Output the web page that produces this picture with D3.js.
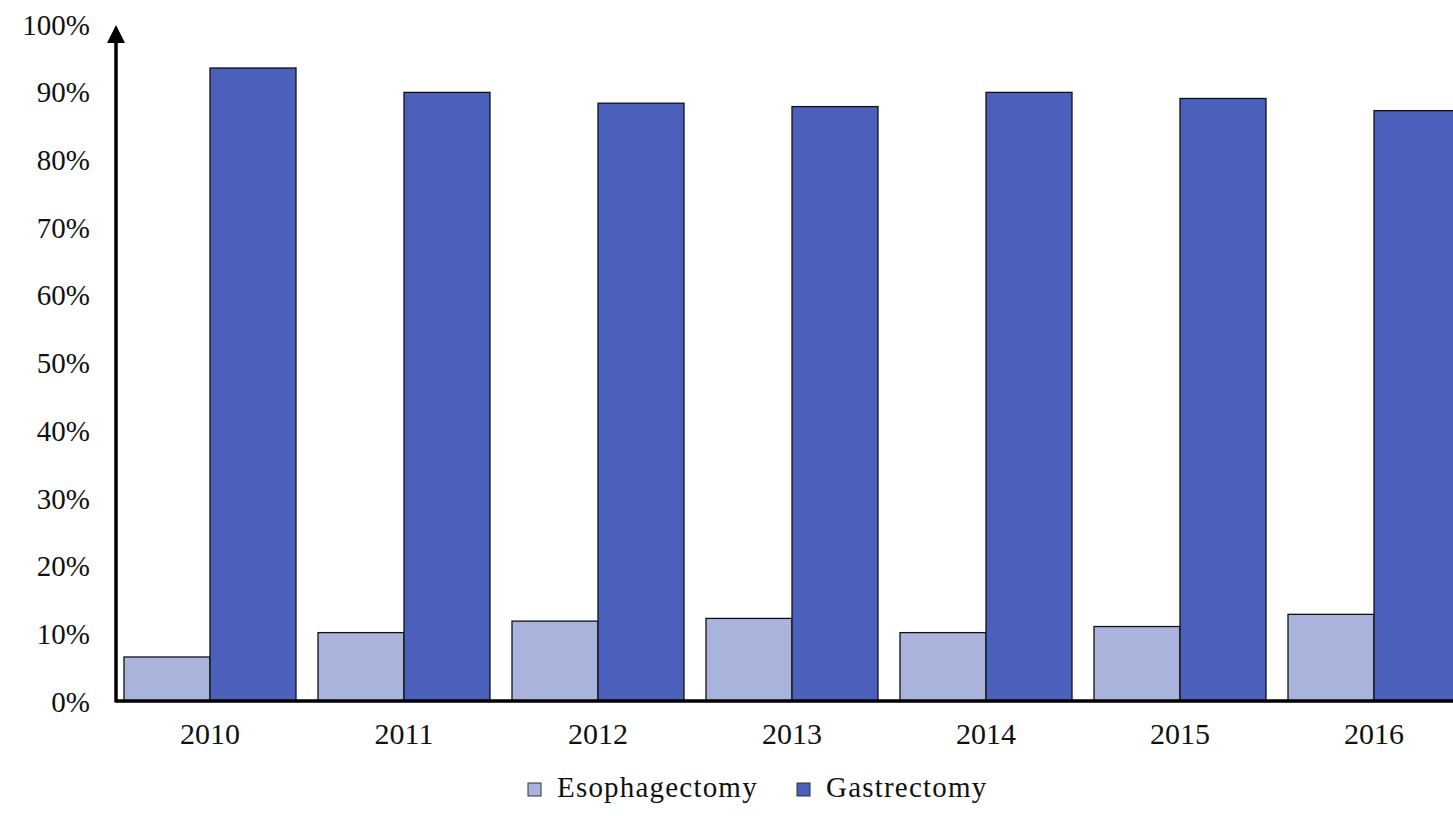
<!DOCTYPE html>
<html>
<head>
<meta charset="utf-8">
<script src="https://cdn.jsdelivr.net/npm/d3@7/dist/d3.min.js"></script>
<style>
html,body{margin:0;padding:0;background:#fff;}
svg{display:block;font-family:"Liberation Serif","Times New Roman",serif;}
</style>
</head>
<body>
<svg id="chart" width="1453" height="816"></svg>
<script>
const years = ["2010","2011","2012","2013","2014","2015","2016"];
const esophagectomy = [6.5, 10.1, 11.8, 12.2, 10.1, 11.0, 12.8];
const gastrectomy = [93.5, 89.9, 88.3, 87.8, 89.9, 89.0, 87.2];
const seriesNames = ["Esophagectomy","Gastrectomy"];
const seriesColors = ["#a9b3dc","#4a60bb"];
const yTicks = [0,10,20,30,40,50,60,70,80,90,100];

const svg = d3.select("#chart");
const axisX = 116, baseY = 701, topY = 24;

const x = d3.scaleBand().domain(years).range([116, 1468]).paddingInner(0.1134).paddingOuter(0.0412);
const xs = d3.scaleBand().domain(seriesNames).range([0, x.bandwidth()]);
const y = d3.scaleLinear().domain([0,100]).range([baseY, topY]);

const data = years.map((yr,i)=>({year:yr, values:[esophagectomy[i], gastrectomy[i]]}));

const g = svg.append("g");
data.forEach(d=>{
  d.values.forEach((v,j)=>{
    g.append("rect")
      .attr("x", x(d.year)+xs(seriesNames[j]))
      .attr("y", y(v))
      .attr("width", xs.bandwidth())
      .attr("height", y(0)-y(v))
      .attr("fill", seriesColors[j])
      .attr("stroke", "#111")
      .attr("stroke-width", 1.3);
  });
});

// Y axis tick labels
const yAxis = d3.axisLeft(y).tickValues(yTicks).tickSize(0).tickPadding(0).tickFormat(d=>d+"%");
const ya = svg.append("g").attr("transform","translate(90,0)").call(yAxis);
ya.select(".domain").remove();
ya.selectAll("text").attr("font-size",29).attr("fill","#111").attr("font-family","Liberation Serif").attr("dy","0.35em");

// X axis labels
const xAxis = d3.axisBottom(x).tickSize(0).tickPadding(0);
const xa = svg.append("g").attr("transform",`translate(0,${baseY+22})`).call(xAxis);
xa.select(".domain").remove();
xa.selectAll("text").attr("font-size",30).attr("fill","#111").attr("font-family","Liberation Serif").attr("dy","0.71em");

// axis lines
svg.append("line").attr("x1",axisX).attr("x2",1453).attr("y1",baseY).attr("y2",baseY)
  .attr("stroke","#000").attr("stroke-width",3.5);
svg.append("line").attr("x1",axisX).attr("x2",axisX).attr("y1",baseY+1.5).attr("y2",topY+14)
  .attr("stroke","#000").attr("stroke-width",3.5);
svg.append("path").attr("d",`M${axisX-9},${topY+19} L${axisX},${topY+1} L${axisX+9},${topY+19} Z`).attr("fill","#000");

// Legend
const legend = svg.append("g");
const legendItems = [{x:528, name:seriesNames[0], color:seriesColors[0]},{x:797, name:seriesNames[1], color:seriesColors[1]}];
legendItems.forEach(it=>{
  legend.append("rect").attr("x",it.x).attr("y",783).attr("width",13).attr("height",13)
    .attr("fill",it.color).attr("stroke","#333").attr("stroke-width",1);
  legend.append("text").attr("x",it.x+29).attr("y",797).attr("font-size",29)
    .attr("letter-spacing","1.2px").attr("fill","#111").text(it.name);
});
</script>
</body>
</html>
